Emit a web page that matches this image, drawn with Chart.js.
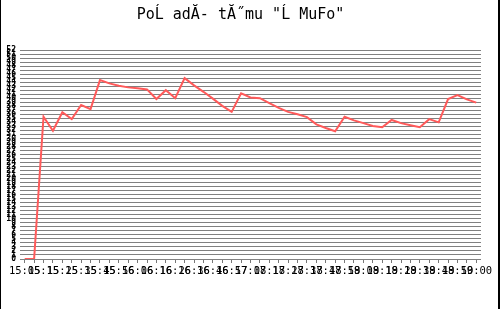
<!DOCTYPE html>
<html>
<head>
<meta charset="utf-8">
<script src="https://cdn.jsdelivr.net/npm/chart.js@4"></script>
<style>
    body { margin: 0; background: #fff; }
    canvas { display: block; }
</style>
</head>
<body>
<canvas id="rankChart" width="500" height="309"></canvas>
<script>
// Time of each sample (only every second one is printed under the axis)
const times = [
    '15:05', '15:10', '15:15', '15:20', '15:25', '15:30', '15:35', '15:40', '15:45', '15:50',
    '15:56', '16:01', '16:06', '16:11', '16:16', '16:21', '16:26', '16:31', '16:36', '16:41',
    '16:46', '16:51', '16:57', '17:02', '17:08', '17:13', '17:18', '17:23', '17:28', '17:33',
    '17:38', '17:43', '17:48', '17:53', '17:59', '18:04', '18:09', '18:14', '18:19', '18:24',
    '18:29', '18:34', '18:39', '18:44', '18:49', '18:49', '18:50', '18:55', '19:00'
];

// Team position
const positions = [
    0, 0, 35.4, 31.9, 36.5, 34.8, 38.3, 37.3, 44.5, 43.7,
    43.1, 42.7, 42.5, 42.2, 39.8, 42.0, 40.0, 45.0, 43.2, 41.6,
    39.9, 38.1, 36.6, 41.2, 40.2, 40.0, 38.8, 37.6, 36.6, 36.0,
    35.3, 33.5, 32.6, 31.8, 35.4, 34.5, 33.8, 33.1, 32.8, 34.6,
    33.8, 33.3, 32.8, 34.8, 34.0, 39.8, 40.8, 39.7, 38.9
];

const yMin = 0;
const yMax = 52;

// black frame on the left and right edge of the image
const framePlugin = {
    id: 'frame',
    afterDraw(chart) {
        const ctx = chart.ctx;
        ctx.save();
        ctx.fillStyle = '#000';
        ctx.fillRect(0, 0, 1, chart.height);
        ctx.fillRect(chart.width - 2, 0, 2, chart.height);
        ctx.restore();
    }
};

const ctx = document.getElementById('rankChart').getContext('2d');
new Chart(ctx, {
    type: 'line',
    data: {
        labels: times,
        datasets: [{
            data: positions,
            borderColor: '#ff5a5a',
            borderWidth: 2,
            pointRadius: 0,
            tension: 0,
            fill: false
        }]
    },
    options: {
        responsive: false,
        animation: false,
        devicePixelRatio: 1,
        layout: {
            padding: { left: 0, right: 19, top: 0, bottom: 0 }
        },
        plugins: {
            legend: { display: false },
            tooltip: { enabled: false },
            title: {
                display: true,
                text: 'PoĹ adĂ- tĂ˝mu "Ĺ MuFo"',
                color: '#000',
                font: { family: 'DejaVu Sans Mono', size: 15, weight: 'normal', lineHeight: 1.2 },
                padding: { top: 6, bottom: 26 }
            }
        },
        scales: {
            x: {
                offset: true,
                border: { display: false },
                grid: {
                    drawOnChartArea: false,
                    drawTicks: true,
                    tickLength: 4,
                    color: '#777'
                },
                ticks: {
                    autoSkip: false,
                    maxRotation: 0,
                    minRotation: 0,
                    padding: 2,
                    color: '#000',
                    font: { family: 'DejaVu Sans Mono', size: 10.5 },
                    callback: function (value, index) {
                        return index % 2 === 0 ? times[index] : '';
                    }
                },
                afterFit: function (scale) {
                    scale.height = 50;
                }
            },
            y: {
                min: yMin,
                max: yMax,
                border: { display: false },
                grid: {
                    color: '#808080',
                    lineWidth: 1,
                    drawTicks: false
                },
                ticks: {
                    stepSize: 1,
                    autoSkip: false,
                    maxTicksLimit: 100,
                    padding: 4,
                    color: '#000',
                    font: { family: 'DejaVu Sans Mono', size: 8, weight: 'bold' }
                },
                afterFit: function (scale) {
                    scale.width = 20;
                }
            }
        }
    },
    plugins: [framePlugin]
});
</script>
</body>
</html>
